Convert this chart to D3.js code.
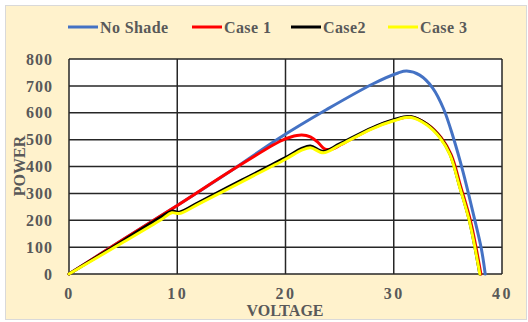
<!DOCTYPE html>
<html>
<head>
<meta charset="utf-8">
<script src="https://cdn.jsdelivr.net/npm/d3@7"></script>
<style>
  body { margin: 0; background: #ffffff; }
  svg text { font-family: "Liberation Serif", "Times New Roman", serif; font-weight: bold; fill: #595959; }
</style>
</head>
<body>
<svg id="chart" width="528" height="322"></svg>
<script>
// voltage / power pairs
var noShadeV = [0, 5, 10, 15, 19.4, 23.8, 28.1, 30.4, 31.2, 32.4, 33.6, 34.6, 35.5, 36.4, 37.3, 38.1, 38.45];
var noShadeP = [0, 128, 255, 385, 505, 612, 708, 748, 755, 740, 692, 615, 508, 380, 232, 92, 0];

var case1V = [0, 5, 10, 15, 19.5, 20.5, 21.5, 22.3, 23, 23.6, 24.4, 25.2, 28, 30, 31.6, 33.1, 34.4, 35.3, 36.2, 37.1, 38.05];
var case1P = [0, 128, 255, 385, 494, 510, 517, 510, 490, 466, 466, 483, 542, 572, 584, 557, 506, 444, 323, 196, 0];

var case2V = [0, 5, 8.5, 9.5, 10.2, 12, 16, 20, 21.5, 22.3, 23.5, 25, 28, 30, 31.5, 33, 34.3, 35.2, 36.1, 37, 37.95];
var case2P = [0, 124, 212, 234, 230, 267, 350, 433, 467, 476, 456, 484, 544, 574, 586, 559, 508, 446, 324, 197, 0];

var case3V = [0, 5, 8.5, 9.5, 10.2, 12, 16, 20, 21.5, 22.3, 23.5, 25, 28, 30, 31.5, 33, 34.3, 35.2, 36.1, 37, 37.95];
var case3P = [0, 118, 202, 228, 225, 261, 344, 427, 461, 470, 451, 479, 540, 570, 583, 556, 505, 443, 322, 195, 0];

var seriesNames = ["No Shade", "Case 1", "Case2", "Case 3"];
var seriesColors = ["#4472c4", "#ff0000", "#000000", "#ffff00"];
var xTicks = [0, 10, 20, 30, 40];
var yTicks = [0, 100, 200, 300, 400, 500, 600, 700, 800];

var svg = d3.select("#chart");

svg.append("rect")
    .attr("x", 5.5).attr("y", 5.5)
    .attr("width", 521).attr("height", 314)
    .attr("fill", "#fff2cc")
    .attr("stroke", "#d9d9d9");

var x = d3.scaleLinear().domain([0, 40]).range([69, 502]);
var y = d3.scaleLinear().domain([0, 800]).range([274, 59]);

svg.append("rect")
    .attr("x", x(0)).attr("y", y(800))
    .attr("width", x(40) - x(0)).attr("height", y(0) - y(800))
    .attr("fill", "#ffffff");

// grid
svg.selectAll(".hgrid").data(yTicks).enter().append("line")
    .attr("x1", x(0)).attr("x2", x(40))
    .attr("y1", function(d){ return y(d); })
    .attr("y2", function(d){ return y(d); })
    .attr("stroke", "#262626").attr("stroke-width", 1.5);

svg.selectAll(".vgrid").data(xTicks).enter().append("line")
    .attr("x1", function(d){ return x(d); })
    .attr("x2", function(d){ return x(d); })
    .attr("y1", y(0)).attr("y2", y(800))
    .attr("stroke", "#262626").attr("stroke-width", 1.5);

// axes labels
var yAxis = d3.axisLeft(y).tickValues(yTicks).tickSize(0).tickPadding(16);
var gy = svg.append("g").attr("transform", "translate(" + x(0) + ",0)").call(yAxis);
gy.select(".domain").remove();
gy.selectAll("text").attr("font-size", "16px").attr("letter-spacing", "1px")
    .style("font-family", "Liberation Serif").attr("fill", "#595959");

var xAxis = d3.axisBottom(x).tickValues(xTicks).tickSize(0).tickPadding(14);
var gx = svg.append("g").attr("transform", "translate(0," + y(0) + ")").call(xAxis);
gx.select(".domain").remove();
gx.selectAll("text").attr("font-size", "16px").attr("letter-spacing", "2.5px")
    .style("font-family", "Liberation Serif").attr("fill", "#595959");

svg.append("text")
    .attr("x", 285).attr("y", 316)
    .attr("text-anchor", "middle")
    .attr("font-size", "16px")
    .text("VOLTAGE");

svg.append("text")
    .attr("transform", "translate(25,166) rotate(-90)")
    .attr("text-anchor", "middle")
    .attr("font-size", "16px")
    .text("POWER");

// curves
var allV = [noShadeV, case1V, case2V, case3V];
var allP = [noShadeP, case1P, case2P, case3P];

var line = d3.line()
    .x(function(d){ return x(d[0]); })
    .y(function(d){ return y(d[1]); })
    .curve(d3.curveCatmullRom.alpha(0.5));

for (var i = 0; i < 4; i++) {
    var pts = allV[i].map(function(v, j){ return [v, allP[i][j]]; });
    svg.append("path")
        .datum(pts)
        .attr("d", line)
        .attr("fill", "none")
        .attr("stroke", seriesColors[i])
        .attr("stroke-width", 3)
        .attr("stroke-linejoin", "round")
        .attr("stroke-linecap", "round");
}

// legend
var legendX = [68, 192, 291, 388];
var leg = svg.selectAll(".leg").data(seriesNames).enter().append("g")
    .attr("transform", function(d, i){ return "translate(" + legendX[i] + ",27)"; });
leg.append("line")
    .attr("x1", 0).attr("x2", 30).attr("y1", 0).attr("y2", 0)
    .attr("stroke", function(d, i){ return seriesColors[i]; })
    .attr("stroke-width", 3);
leg.append("text")
    .attr("x", 32).attr("y", 6)
    .attr("font-size", "16px")
    .attr("letter-spacing", "0.4px")
    .text(function(d){ return d; });
</script>
</body>
</html>
